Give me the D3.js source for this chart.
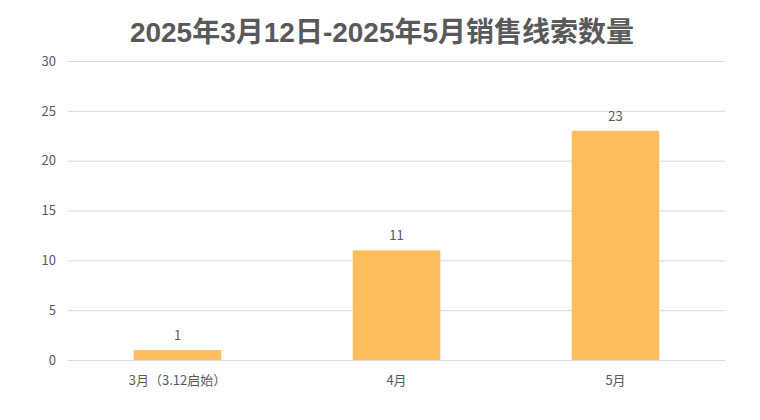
<!DOCTYPE html>
<html><head><meta charset="utf-8">
<script src="https://cdn.jsdelivr.net/npm/d3@7"></script>
<style>body{margin:0;background:#fff;}svg{display:block;font-family:"Noto Sans CJK SC","Microsoft YaHei",sans-serif;}</style>
</head><body><svg id="c" width="760" height="420"></svg>
<script>
const title = "2025年3月12日-2025年5月销售线索数量";
const categories = ["3月（3.12启始）", "4月", "5月"];
const values = [1, 11, 23];
const yTicks = [0, 5, 10, 15, 20, 25, 30];

const svg = d3.select("#c");
const m = {l: 68, r: 35, t: 61, b: 60};
const W = 760, H = 420;
const x = d3.scaleBand().domain(categories).range([m.l, W - m.r]).paddingInner(0.6).paddingOuter(0.3);
const y = d3.scaleLinear().domain([0, 30]).range([H - m.b, m.t]);

svg.append("text").attr("x", 382).attr("y", 42).attr("text-anchor", "middle")
  .attr("font-family", "'Liberation Sans','Noto Sans CJK SC',sans-serif")
  .attr("font-size", 28).attr("font-weight", "bold").attr("fill", "#595959").text(title);

const ya = svg.append("g").attr("transform", `translate(${m.l},0)`)
  .call(d3.axisLeft(y).tickValues(yTicks).tickSize(-(W - m.l - m.r)).tickPadding(12));
ya.select(".domain").remove();
ya.selectAll(".tick line").attr("stroke", "#d9d9d9");
ya.selectAll(".tick text").attr("fill", "#595959").attr("font-size", 13).attr("font-family", "'Noto Sans CJK SC',sans-serif");

const xa = svg.append("g").attr("transform", `translate(0,${H - m.b})`)
  .call(d3.axisBottom(x).tickSize(0).tickPadding(16));
xa.select(".domain").attr("stroke", "#d9d9d9");
xa.selectAll(".tick text").attr("fill", "#595959").attr("font-size", 13).attr("font-family", "'Noto Sans CJK SC',sans-serif");

svg.selectAll("rect.bar").data(values).enter().append("rect").attr("class", "bar")
  .attr("x", (d, i) => x(categories[i])).attr("width", x.bandwidth())
  .attr("y", d => y(d)).attr("height", d => y(0) - y(d)).attr("fill", "#FFBE5E");

svg.selectAll("text.lbl").data(values).enter().append("text").attr("class", "lbl")
  .attr("x", (d, i) => x(categories[i]) + x.bandwidth() / 2).attr("y", d => y(d) - 10)
  .attr("text-anchor", "middle").attr("font-size", 13).attr("fill", "#595959").text(d => d);
</script></body></html>
